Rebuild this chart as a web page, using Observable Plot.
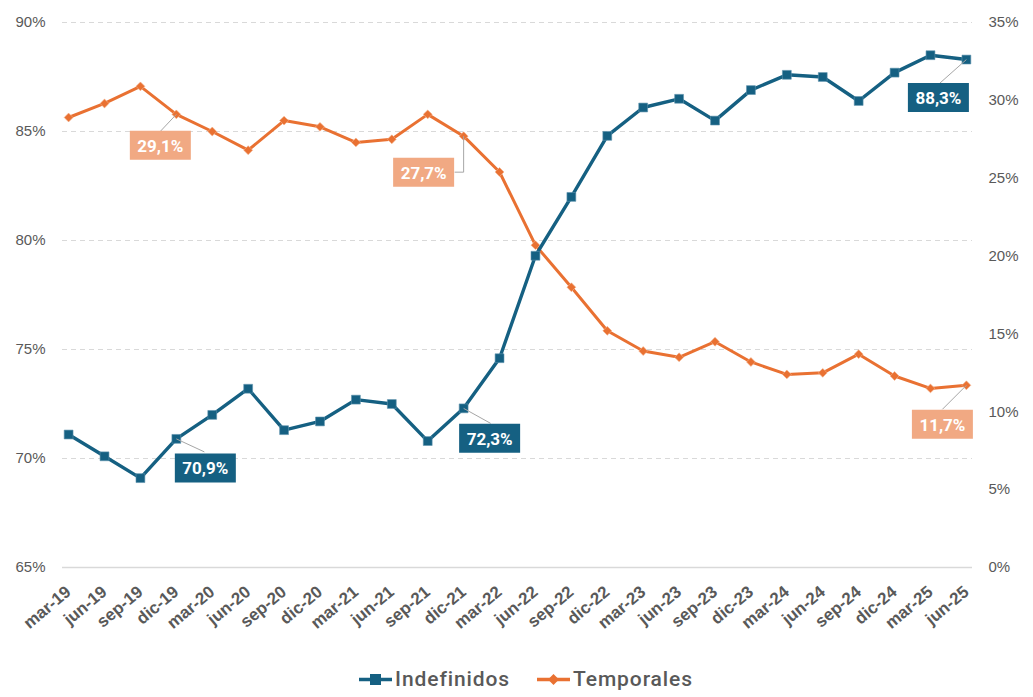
<!DOCTYPE html>
<html>
<head>
<meta charset="utf-8">
<script src="https://cdn.jsdelivr.net/npm/d3@7"></script>
<script src="https://cdn.jsdelivr.net/npm/@observablehq/plot@0.6"></script>
<style>
  html, body { margin: 0; padding: 0; background: #fff; }
  #chart { width: 1033px; height: 697px; position: relative; overflow: hidden; font-family: "Liberation Sans", Arial, sans-serif; }
  #legend { position: absolute; left: 0; top: 667px; width: 1033px; box-sizing: border-box; padding-left: 18px; display: flex; justify-content: center; gap: 26px;
            font-family: Roboto, "Liberation Sans", sans-serif; font-size: 21px; line-height: 25px; font-weight: 500; color: #595959; letter-spacing: 0.9px; }
  .item { display: flex; align-items: center; gap: 2px; }
</style>
</head>
<body>
<div id="chart"></div>
<script>
// ---- data ----
const months = ["mar-19","jun-19","sep-19","dic-19","mar-20","jun-20","sep-20","dic-20","mar-21","jun-21","sep-21","dic-21",
                "mar-22","jun-22","sep-22","dic-22","mar-23","jun-23","sep-23","dic-23","mar-24","jun-24","sep-24","dic-24","mar-25","jun-25"];
const indefinidos = [71.1,70.1,69.1,70.9,72.0,73.2,71.3,71.7,72.7,72.5,70.8,72.3,
                     74.6,79.3,82.0,84.8,86.1,86.5,85.5,86.9,87.6,87.5,86.4,87.7,88.5,88.3];
const temporales  = [28.9,29.8,30.9,29.1,28.0,26.8,28.7,28.3,27.3,27.5,29.1,27.7,
                     25.4,20.7,18.0,15.2,13.9,13.5,14.5,13.2,12.4,12.5,13.7,12.3,11.5,11.7];
const leftTicks  = [65,70,75,80,85,90];
const rightTicks = [0,5,10,15,20,25,30,35];
const seriesNames = ["Indefinidos","Temporales"];
const labeledMonths = ["dic-19","dic-21","jun-25"];

// ---- styles ----
const BLUE = "#156082", ORANGE = "#E97132", ORANGE_LIGHT = "#F1A983", GRID = "#d9d9d9", TXT = "#595959";

// right axis (0–35%) mapped onto left scale (65–90%)
const toLeft = v => 65 + v * 25 / 35;
const fromLeft = d => (d - 65) * 35 / 25;

const indefData = months.map((m, i) => ({month: m, value: indefinidos[i], y: indefinidos[i]}));
const tempData  = months.map((m, i) => ({month: m, value: temporales[i], y: toLeft(temporales[i])}));

const fmt = v => v.toFixed(1).replace(".", ",") + "%";

// annotation layout (pixel offsets of box centre from point, leader path)
const layout = {
  "Indefinidos|dic-19": {dx: 29,  dy: 29,  lead: [[28, 13]]},
  "Indefinidos|dic-21": {dx: 26,  dy: 30,  lead: [[27, 15]]},
  "Indefinidos|jun-25": {dx: -28, dy: 38,  lead: [[-27, 24]]},
  "Temporales|dic-19":  {dx: -16, dy: 31,  lead: [[-16, 17]]},
  "Temporales|dic-21":  {dx: -40, dy: 36,  lead: [[0, 36], [-9, 36]]},
  "Temporales|jun-25":  {dx: -24, dy: 39,  lead: [[-24, 24]]}
};

const boxSymbol = (w, h) => ({draw(ctx) { ctx.rect(-w / 2, -h / 2, w, h); }});
const leaderSymbol = pts => ({draw(ctx) { ctx.moveTo(0, 0); pts.forEach(([a, b]) => ctx.lineTo(a, b)); }});

const annMarks = [];
for (const s of seriesNames) {
  const data = s === "Indefinidos" ? indefData : tempData;
  for (const m of labeledMonths) {
    const d = data.find(e => e.month === m);
    const L = layout[s + "|" + m];
    const fill = s === "Indefinidos" ? BLUE : ORANGE_LIGHT;
    annMarks.push(Plot.dot([d], {x: "month", y: "y", r: 1, symbol: leaderSymbol(L.lead), fill: "none", stroke: "#a6a6a6", strokeWidth: 1}));
    annMarks.push(Plot.dot([d], {x: "month", y: "y", r: 1, symbol: boxSymbol(61, 29), fill, stroke: "none", dx: L.dx, dy: L.dy}));
    annMarks.push(Plot.text([d], {x: "month", y: "y", text: d => fmt(d.value), dx: L.dx, dy: L.dy + 1, fill: "white",
      fontWeight: "bold", fontSize: 17, fontFamily: "Roboto, 'Liberation Sans', sans-serif"}));
  }
}

const plot = Plot.plot({
  width: 1033,
  height: 660,
  marginLeft: 62,
  marginRight: 61,
  marginTop: 22,
  marginBottom: 93,
  style: {fontFamily: "'Liberation Sans', Arial, sans-serif", color: TXT, background: "white"},
  x: {type: "point", domain: months, padding: 0.17, round: false, label: null},
  y: {domain: [65, 90], label: null},
  marks: [
    Plot.ruleY(leftTicks.filter(t => t > 65), {stroke: GRID, strokeDasharray: "5,4", strokeWidth: 1}),
    Plot.ruleY([65], {stroke: GRID, strokeWidth: 1.3}),
    Plot.axisY(leftTicks, {anchor: "left", tickSize: 0, tickPadding: 17, tickFormat: d => d + "%", fontSize: 15, fill: TXT, label: null}),
    Plot.axisY(rightTicks.map(toLeft), {anchor: "right", tickSize: 0, tickPadding: 16, tickFormat: d => Math.round(fromLeft(d)) + "%", fontSize: 15, fill: TXT, label: null}),
    Plot.axisX({tickRotate: -40, tickSize: 0, tickPadding: 22, fontSize: 17, fontWeight: "bold", fill: TXT, label: null}),
    Plot.line(tempData, {x: "month", y: "y", stroke: ORANGE, strokeWidth: 3}),
    Plot.dot(tempData, {x: "month", y: "y", symbol: "diamond2", r: 4, fill: ORANGE, stroke: "#f4b38f", strokeWidth: 0.6}),
    Plot.line(indefData, {x: "month", y: "y", stroke: BLUE, strokeWidth: 3.4}),
    Plot.dot(indefData, {x: "month", y: "y", symbol: "square", r: 5, fill: BLUE, stroke: "#5f93ae", strokeWidth: 0.6}),
    ...annMarks
  ]
});

const chart = document.getElementById("chart");
chart.appendChild(plot);

// legend
const legend = document.createElement("div");
legend.id = "legend";
const legendItems = [
  {name: seriesNames[0], color: BLUE, shape: "square"},
  {name: seriesNames[1], color: ORANGE, shape: "diamond"}
];
for (const it of legendItems) {
  const el = document.createElement("div");
  el.className = "item";
  const marker = it.shape === "square"
    ? `<rect x="12" y="5" width="11" height="11" fill="${it.color}"/>`
    : `<path d="M17.5 5 L23 10.5 L17.5 16 L12 10.5 Z" fill="${it.color}"/>`;
  el.innerHTML = `<svg width="35" height="21"><line x1="1" y1="10.5" x2="34" y2="10.5" stroke="${it.color}" stroke-width="3.5"/>${marker}</svg><span>${it.name}</span>`;
  legend.appendChild(el);
}
chart.appendChild(legend);
</script>
</body>
</html>
